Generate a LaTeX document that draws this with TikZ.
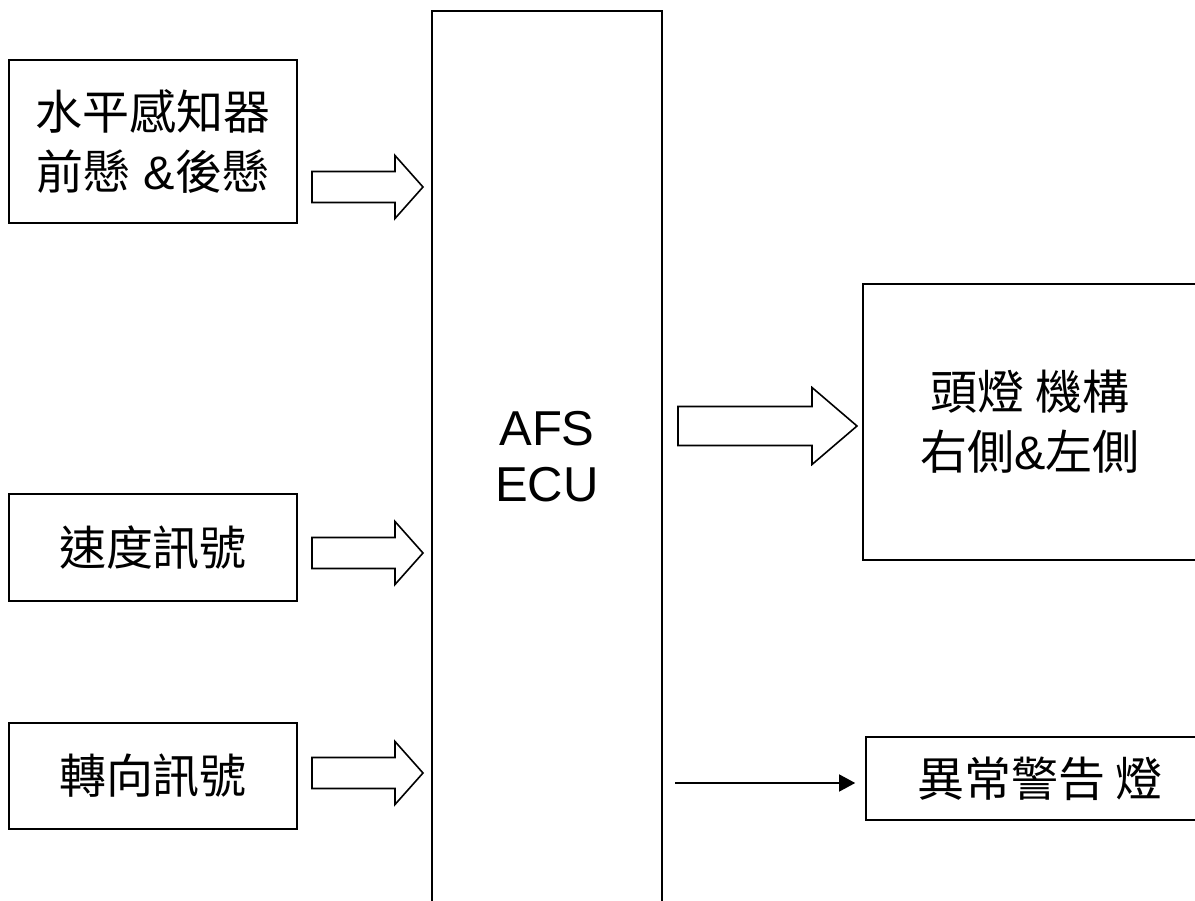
\documentclass[tikz,border=0pt]{standalone}
\usepackage{fontspec}
\setmainfont{Liberation Sans}
\newfontfamily\cjk{Noto Sans CJK TC}
\usetikzlibrary{arrows.meta, positioning}
\newcommand{\zh}[1]{{\cjk #1}}

\tikzset{
  unit/.style={draw, line width=1.6pt, align=center, inner sep=0pt,
    font=\fontsize{47}{60}\selectfont},
  pics/fatarrow/.style n args={4}{code={
    \draw[line width=1.6pt, fill=white] (0,#2) -- ({#1-#4},#2) -- ({#1-#4},#3)
      -- (#1,0) -- ({#1-#4},-#3) -- ({#1-#4},-#2) -- (0,-#2) -- cycle;
  }}
}

\begin{document}
\begin{tikzpicture}[>=stealth, x=1pt, y=-1pt]
\useasboundingbox (0,0) rectangle (1195,901);
\clip (0,0) rectangle (1195,901);

% Inputs
\node[unit, minimum width=288pt, minimum height=163pt] (lvl) at (153,141.5)
  {\zh{水平感知器}\\ \zh{前懸} \&\zh{後懸}};
\node[unit, minimum width=288pt, minimum height=107pt] (spd) at (153,547.5)
  {\zh{速度訊號}};
\node[unit, minimum width=288pt, minimum height=106pt] (steer) at (153,776)
  {\zh{轉向訊號}};

% Controller
\node[unit, minimum width=230pt, minimum height=892pt,
  font=\fontsize{49}{56}\selectfont] (ecu) at (547,457) {AFS\\ECU};

% Outputs
\node[unit, minimum width=334pt, minimum height=276pt] (lamp) at (1030,422)
  {\zh{頭燈 機構}\\ \zh{右側}\&\zh{左側}};
\node[unit, minimum width=348pt, minimum height=83pt] (warn) at (1040,778.5)
  {\zh{異常警告 燈}};

% Signal arrows
\pic at (312,187) {fatarrow={111}{15.5}{31.5}{28}};
\pic at (312,553) {fatarrow={111}{15.5}{31.5}{28}};
\pic at (312,773) {fatarrow={111}{15.5}{31.5}{28}};
\pic at (678,426) {fatarrow={179}{19.5}{38.5}{45}};

\coordinate (ecuout) at (675,783);
\draw[line width=1.3pt, -{Triangle[length=16pt,width=17pt]}, shorten >=10pt]
  (ecuout) -- (ecuout -| warn.west);

\end{tikzpicture}
\end{document}
